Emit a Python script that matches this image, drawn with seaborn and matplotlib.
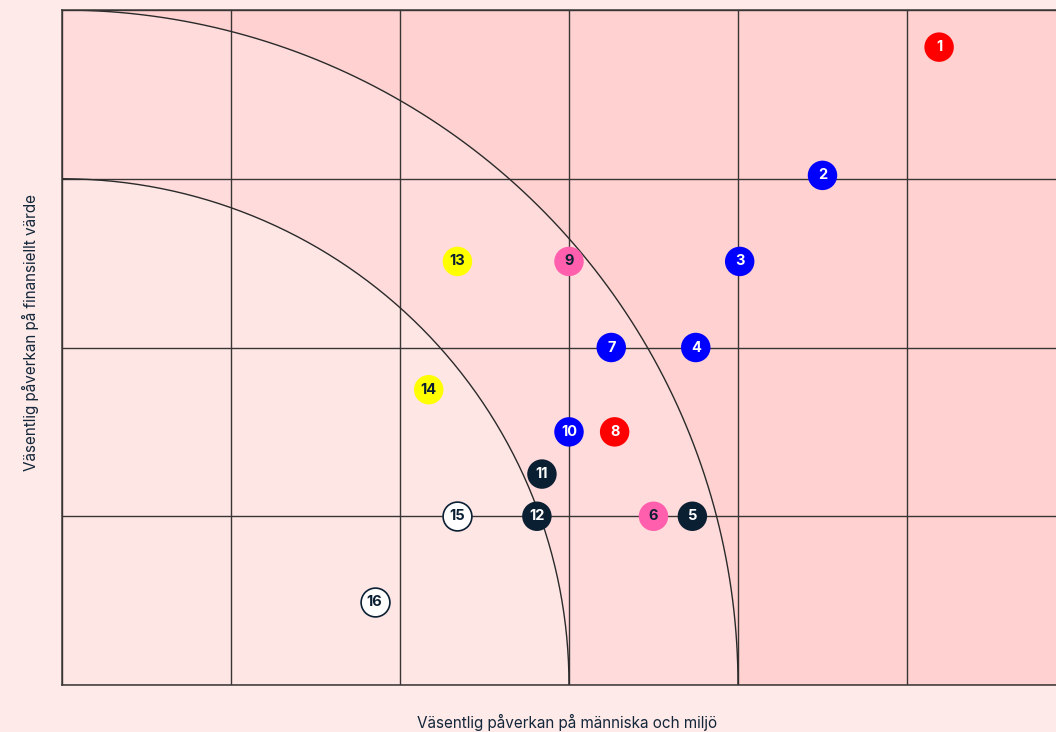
import numpy as np
import pandas as pd
import seaborn as sns
import matplotlib.pyplot as plt

# Data (x = people & environment, y = financial value)
ids = [str(i) for i in range(1, 17)]
x_vals = [5.19, 4.50, 4.01, 3.75, 3.73, 3.50, 3.25, 3.27, 3.00, 3.00, 2.84, 2.81, 2.34, 2.17, 2.34, 1.85]
y_vals = [3.78, 3.02, 2.51, 2.00, 1.00, 1.00, 2.00, 1.50, 2.51, 1.50, 1.25, 1.00, 2.51, 1.75, 1.00, 0.49]
groups = ['röd', 'blå', 'blå', 'blå', 'mörk', 'rosa', 'blå', 'röd',
          'rosa', 'blå', 'mörk', 'mörk', 'gul', 'gul', 'vit', 'vit']

färger = {'röd': '#ff0000', 'blå': '#0000ff', 'mörk': '#0b1f33',
          'rosa': '#ff5fad', 'gul': '#ffff00', 'vit': '#ffffff'}
textfärg = {'röd': 'white', 'blå': 'white', 'mörk': 'white',
            'rosa': '#0b1f33', 'gul': '#0b1f33', 'vit': '#0b1f33'}

df = pd.DataFrame({'id': ids, 'x': x_vals, 'y': y_vals, 'grupp': groups})

fig = plt.figure(figsize=(10.56, 7.32), dpi=100, facecolor='#feeae8')
ax = fig.add_axes([62/1056, 47/732, 1 - 62/1056, 675/732])
ax.set_xlim(0, 994/169)
ax.set_ylim(0, 4)

# bakgrundszoner
ax.set_facecolor('#ffd1d0')
t = np.linspace(0, np.pi/2, 200)
for r, c in [(4, '#ffdcdb'), (3, '#fee6e5')]:
    ax.fill(np.r_[0, r*np.cos(t)], np.r_[0, r*np.sin(t)], color=c, zorder=0, lw=0)
    ax.plot(r*np.cos(t), r*np.sin(t), color='#2a2a2a', lw=1, zorder=1)

ax.set_xticks(np.arange(0, 6))
ax.set_yticks(np.arange(0, 5))
ax.grid(True, color='#3a3535', lw=1.0, zorder=1)
ax.set_axisbelow(True)
ax.tick_params(length=0, labelbottom=False, labelleft=False)
for s in ax.spines.values():
    s.set_color('#3a3535')
    s.set_linewidth(1.1)
ax.spines['right'].set_visible(False)

sns.scatterplot(data=df, x='x', y='y', hue='grupp', palette=färger, s=450,
                edgecolor='#0b1f33', linewidth=0, legend=False, ax=ax, zorder=3)
# white markers need an outline
vit = df[df['grupp'] == 'vit']
ax.scatter(vit['x'], vit['y'], s=430, facecolor='white', edgecolor='#0b1f33', linewidth=1.2, zorder=4)

for _, row in df.iterrows():
    ax.text(row['x'], row['y'], row['id'], ha='center', va='center', fontsize=10.5,
            fontweight='bold', color=textfärg[row['grupp']], zorder=5, family='Inter')

ax.set_xlabel('')
ax.set_ylabel('')
fig.text(567/1056, 1 - 722/732, 'Väsentlig påverkan på människa och miljö', ha='center', va='center',
         fontsize=11, color='#13263a', family='Inter')
fig.text(30/1056, 1 - 332/732, 'Väsentlig påverkan på finansiellt värde', ha='center', va='center',
         rotation=90, fontsize=11, color='#13263a', family='Inter')

fig.savefig('out.png', dpi=100, facecolor=fig.get_facecolor())
